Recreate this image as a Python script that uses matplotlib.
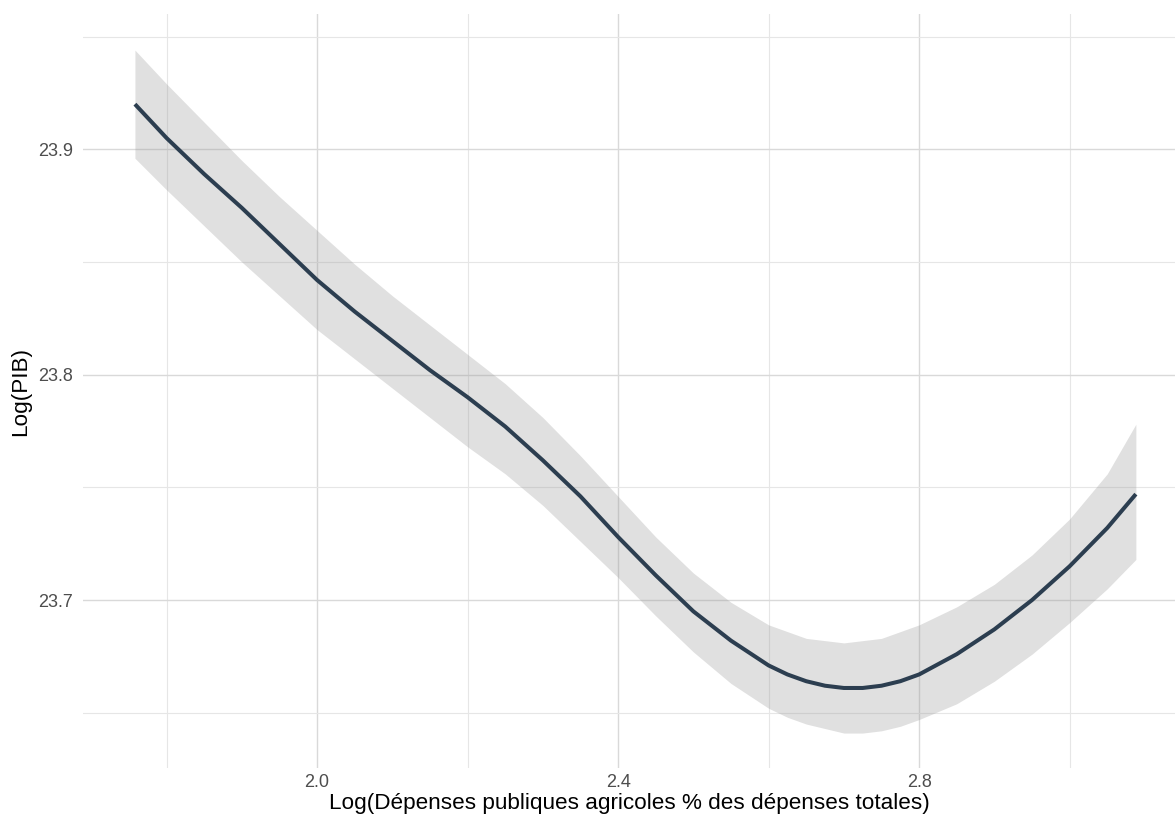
import matplotlib
matplotlib.use("Agg")
import matplotlib.pyplot as plt
from matplotlib.ticker import MultipleLocator, FormatStrFormatter

x_vals = [1.758, 1.80, 1.85, 1.90, 1.95, 2.00, 2.05, 2.10, 2.15, 2.20, 2.25, 2.30,
          2.35, 2.40, 2.45, 2.50, 2.55, 2.60, 2.625, 2.65, 2.675, 2.70, 2.725, 2.75,
          2.775, 2.80, 2.85, 2.90, 2.95, 3.00, 3.05, 3.088]
fit = [23.920, 23.905, 23.889, 23.874, 23.858, 23.842, 23.828, 23.815, 23.802,
       23.790, 23.777, 23.762, 23.746, 23.728, 23.711, 23.695, 23.682, 23.671,
       23.667, 23.664, 23.662, 23.661, 23.661, 23.662, 23.664, 23.667, 23.676,
       23.687, 23.700, 23.715, 23.732, 23.747]
upper = [23.944, 23.929, 23.912, 23.895, 23.879, 23.864, 23.849, 23.835, 23.822,
         23.809, 23.796, 23.781, 23.764, 23.746, 23.728, 23.712, 23.699, 23.689,
         23.686, 23.683, 23.682, 23.681, 23.682, 23.683, 23.686, 23.689, 23.697,
         23.707, 23.720, 23.736, 23.756, 23.778]
lower = [23.896, 23.882, 23.866, 23.850, 23.835, 23.820, 23.807, 23.794, 23.781,
         23.768, 23.756, 23.742, 23.726, 23.710, 23.693, 23.677, 23.663, 23.652,
         23.648, 23.645, 23.643, 23.641, 23.641, 23.642, 23.644, 23.647, 23.654,
         23.664, 23.676, 23.690, 23.705, 23.718]

x_label = "Log(Dépenses publiques agricoles % des dépenses totales)"
y_label = "Log(PIB)"

plt.rcParams['font.family'] = ['Liberation Sans', 'DejaVu Sans']

fig = plt.figure(figsize=(11.75, 8.24), dpi=100)
ax = fig.add_axes([83/1175, 1 - 768/824, 1 - 83/1175, (768 - 14)/824])

ax.fill_between(x_vals, lower, upper, color='#999999', alpha=0.3, linewidth=0, zorder=2)
ax.plot(x_vals, fit, color='#2c3e50', linewidth=2.9, solid_capstyle='butt',
        solid_joinstyle='round', zorder=3)

ax.set_xlim(1.689, 3.140)
ax.set_ylim(23.6255, 23.960)

ax.xaxis.set_major_locator(MultipleLocator(0.4))
ax.xaxis.set_minor_locator(MultipleLocator(0.2))
ax.yaxis.set_major_locator(MultipleLocator(0.1))
ax.yaxis.set_minor_locator(MultipleLocator(0.05))

ax.grid(which='major', color='#d9d9d9', linewidth=1.0, zorder=0)
ax.grid(which='minor', color='#e6e6e6', linewidth=0.8, zorder=0)
ax.set_axisbelow(True)

for s in ax.spines.values():
    s.set_visible(False)
ax.tick_params(which='both', length=0)
ax.tick_params(axis='x', pad=4, labelsize=13, labelcolor='#4d4d4d')
ax.tick_params(axis='y', pad=7, labelsize=13, labelcolor='#4d4d4d')
ax.xaxis.set_major_formatter(FormatStrFormatter('%.1f'))
ax.yaxis.set_major_formatter(FormatStrFormatter('%.1f'))

ax.set_xlabel(x_label, fontsize=16.2, color='black', labelpad=2)
ax.set_ylabel(y_label, fontsize=16.2, color='black', labelpad=5)

fig.savefig("out.png", dpi=100)
